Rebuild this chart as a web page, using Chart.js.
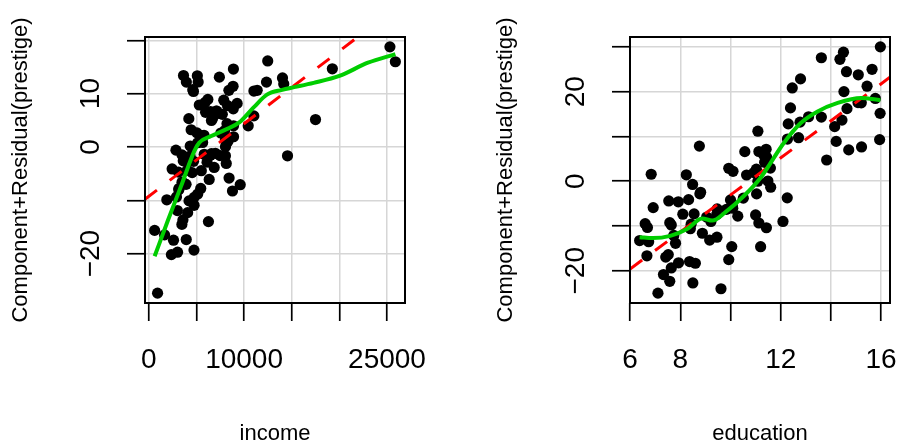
<!DOCTYPE html>
<html lang="en">
<head>
    <meta charset="UTF-8">
    <title>Component + Residual plots</title>
    <script src="https://cdn.jsdelivr.net/npm/chart.js"></script>
    <style>
        body { margin: 0; background: #fff; }
        canvas { position: absolute; top: 0; }
        #incomeChart { left: 0; }
        #educationChart { left: 485px; }
    </style>
</head>
<body>
    <canvas id="incomeChart" width="450" height="443"></canvas>
    <canvas id="educationChart" width="416" height="443"></canvas>
    <script>
        // x values of the points
        const income = [12351, 25879, 9271, 8865, 8403, 11030, 8258, 14163, 11377, 11023,
            5902, 7059, 8425, 8049, 7405, 6336, 19263, 6112, 9593, 4686,
            12480, 5648, 8034, 25308, 14558, 17498, 4614, 3485, 5092, 10432,
            5180, 6197, 7562, 8206, 4036, 3148, 4348, 2448, 4330, 4761,
            3016, 2901, 5511, 3739, 3161, 4741, 5052, 6259, 4075, 7482,
            8780, 2594, 918, 2370, 8131, 6992, 7956, 8895, 8891, 3116,
            3930, 7869, 611, 3000, 3472, 3582, 3643, 1656, 6860, 4199,
            5134, 5134, 1890, 4443, 3485, 8043, 6686, 6565, 6477, 5811,
            6573, 3942, 5449, 2847, 5795, 7716, 4696, 8316, 7147, 8880,
            5299, 5959, 4549, 6928, 3910, 14032, 8845, 5562, 4224, 4753,
            6462, 3617];
        const education = [13.11, 12.26, 12.77, 11.42, 14.62, 15.64, 15.09, 15.44, 14.52, 14.64,
            12.39, 12.30, 13.83, 14.44, 14.36, 14.21, 15.77, 14.15, 15.22, 14.50,
            15.97, 13.62, 15.08, 15.96, 15.94, 14.71, 12.46, 9.45, 13.62, 15.21,
            12.79, 11.09, 12.71, 11.44, 11.59, 11.49, 11.32, 10.64, 11.36, 9.17,
            12.09, 11.04, 9.22, 10.07, 10.51, 11.20, 11.13, 11.43, 11.00, 9.84,
            11.13, 10.05, 9.62, 9.93, 11.60, 11.09, 11.03, 9.47, 10.93, 7.74,
            8.50, 10.57, 9.46, 7.33, 7.11, 7.58, 6.84, 8.60, 8.88, 7.54,
            7.64, 7.64, 7.42, 6.69, 6.74, 10.09, 8.81, 8.40, 7.92, 8.43,
            8.78, 8.76, 10.29, 6.38, 8.10, 10.10, 6.67, 9.05, 9.93, 8.24,
            6.92, 6.60, 7.81, 8.33, 7.52, 12.27, 8.49, 7.58, 7.93, 8.37,
            10.00, 8.55];

        // component + residual values, same order
        const crIncome = [12.15, 15.97, 8.16, 7.15, 10.61, 10.48, 7.76, 11.81, 10.62, 5.82,
            8.33, 6.70, -5.83, 0.05, 13.08, -6.10, 14.65, -2.85, -7.08, 10.40,
            16.12, 0.84, 1.30, 18.76, -1.66, 5.13, 10.74, -6.60, 13.34, 3.96,
            12.18, 8.91, 2.61, 4.36, -4.36, -8.04, 0.16, -4.13, -1.71, -9.45,
            -19.73, -9.38, -4.45, -6.87, -7.79, -19.34, 2.64, -14.00, -12.32, -1.62,
            -8.26, -17.49, -27.41, -20.19, -3.10, -1.19, 3.06, 1.91, 3.97, -4.73,
            -17.37, 8.76, -15.65, -11.93, -14.52, -13.67, 13.39, -16.49, -3.85, 5.30,
            -8.82, 0.78, -9.91, 3.22, -1.49, -1.65, 5.34, -1.26, 6.63, -1.38,
            4.97, 12.15, -7.78, -0.60, 2.18, 6.11, -2.70, 1.05, 6.71, 14.60,
            7.86, 6.49, -4.82, 6.03, -7.02, 12.93, 11.37, 2.13, -10.12, -10.94,
            -1.58, -2.58];
        const crEducation = [14.41, -3.71, 13.20, 7.15, 24.48, 25.01, 23.78, 21.24, 20.03, 16.22,
            16.39, 12.81, 4.75, 13.66, 27.24, 8.90, 18.50, 12.20, 7.66, 28.84,
            30.03, 14.33, 17.58, 15.17, 9.30, 7.00, 20.84, -7.42, 27.59, 17.52,
            22.87, 11.18, 9.73, 5.35, 2.93, 0.04, 5.90, 1.39, 4.23, -13.16,
            -8.99, -2.83, -8.98, -5.47, -3.78, -14.63, 6.64, -10.40, -7.53, -6.27,
            -9.33, -14.61, -24.03, -17.51, -1.35, 0.00, 2.69, -6.19, 1.92, -12.12,
            -22.73, 6.61, -12.51, -20.86, -25.01, -22.36, 1.56, -18.33, -11.62, -4.40,
            -19.37, -9.77, -16.95, -10.33, -13.52, -6.03, -2.48, -10.62, -4.60, -9.59,
            -2.83, 7.85, -7.80, -13.26, -7.37, 2.22, -16.67, -8.00, 2.89, 1.43,
            -5.89, -9.49, -13.87, -4.11, -16.40, 9.42, -0.72, -9.25, -18.23, -17.95,
            -4.18, -7.30];

        // straight fit (red dashed), end points
        const fitIncomeX = [-400, 26890];
        const fitIncomeY = [-9.80, 27.35];
        const fitEducationX = [6.0, 16.35];
        const fitEducationY = [-19.60, 23.22];

        // smooth (green)
        const smoothIncomeX = [611, 2000, 3500, 4800, 5300, 6500, 8000, 9500, 11000, 12400, 14000, 17300, 20000, 23000, 25879];
        const smoothIncomeY = [-20.5, -13.8, -6.8, -0.7, 0.8, 2.0, 3.2, 4.6, 7.4, 9.8, 10.7, 12.0, 13.3, 15.8, 17.4];
        const smoothEducationX = [6.38, 6.9, 7.6, 8.27, 8.87, 9.27, 9.8, 10.53, 11.2, 12.13, 12.8, 13.47, 14.27, 15.2, 15.97];
        const smoothEducationY = [-12.5, -12.7, -12.2, -10.7, -8.3, -8.8, -6.9, -3.3, 0.8, 8.6, 13.0, 15.6, 17.5, 18.6, 18.1];

        // axes
        const incomeTicks = [0, 5000, 10000, 15000, 20000, 25000];
        const incomeTickLabels = ['0', '', '10000', '', '', '25000'];
        const crIncomeTicks = [-20, -10, 0, 10, 20];
        const crIncomeTickLabels = ['\u221220', '', '0', '10', ''];
        const educationTicks = [6, 8, 10, 12, 14, 16];
        const educationTickLabels = ['6', '8', '', '12', '', '16'];
        const crEducationTicks = [-20, -10, 0, 10, 20, 30];
        const crEducationTickLabels = ['\u221220', '', '0', '', '20', ''];

        const family = "'Liberation Sans', Arial, sans-serif";
        const gridColor = '#d6d6d6';

        const boxPlugin = {
            id: 'box',
            afterDatasetsDraw(chart) {
                const { ctx, chartArea: a } = chart;
                ctx.save();
                ctx.strokeStyle = '#000';
                ctx.lineWidth = 2;
                ctx.strokeRect(a.left, a.top, a.right - a.left, a.bottom - a.top);
                ctx.restore();
            }
        };

        function zip(xs, ys) {
            return xs.map((x, i) => ({ x: x, y: ys[i] }));
        }

        function axis(min, max, ticks, labels, title, isX) {
            return {
                type: 'linear',
                min: min,
                max: max,
                afterBuildTicks: s => { s.ticks = ticks.map(v => ({ value: v })); },
                afterFit: s => {
                    if (isX) s.height = 140; else s.width = 145;
                    s.paddingLeft = 0; s.paddingRight = 0; s.paddingTop = 0; s.paddingBottom = 0;
                },
                grid: { color: gridColor, lineWidth: 1.5, tickColor: '#000', tickLength: 18, tickWidth: 1.7 },
                border: { display: false },
                ticks: isX
                    ? { autoSkip: false, maxRotation: 0, padding: 22, color: '#000',
                        font: { family: family, size: 28 }, callback: (v, i) => labels[i] }
                    : { autoSkip: false, minRotation: 90, maxRotation: 90, crossAlign: 'center', padding: 12, color: '#000',
                        font: { family: family, size: 28 }, callback: (v, i) => labels[i] },
                title: {
                    display: true, text: title, color: '#000',
                    font: { family: family, size: 22, lineHeight: 0.8 },
                    padding: isX ? { top: 0, bottom: 0 } : { top: 12, bottom: 0 }
                }
            };
        }

        function makePanel(id, cfg) {
            const ctx = document.getElementById(id).getContext('2d');
            return new Chart(ctx, {
                type: 'scatter',
                data: {
                    datasets: [{
                        type: 'line',
                        data: zip(cfg.smoothX, cfg.smoothY),
                        borderColor: '#00cd00',
                        borderWidth: 4,
                        pointRadius: 0,
                        cubicInterpolationMode: 'monotone',
                        clip: 0
                    }, {
                        type: 'line',
                        data: zip(cfg.fitX, cfg.fitY),
                        borderColor: '#ff0000',
                        borderWidth: 3,
                        borderDash: [15, 16],
                        pointRadius: 0,
                        clip: 0
                    }, {
                        data: zip(cfg.x, cfg.y),
                        backgroundColor: '#000',
                        borderWidth: 0,
                        pointRadius: 5.6
                    }]
                },
                options: {
                    responsive: false,
                    animation: false,
                    layout: { padding: { top: 37, right: cfg.padRight, left: 0, bottom: 0 } },
                    plugins: { legend: { display: false }, tooltip: { enabled: false } },
                    scales: {
                        x: axis(cfg.xMin, cfg.xMax, cfg.xTicks, cfg.xLabels, cfg.xTitle, true),
                        y: axis(cfg.yMin, cfg.yMax, cfg.yTicks, cfg.yLabels, 'Component+Residual(prestige)', false)
                    }
                },
                plugins: [boxPlugin]
            });
        }

        makePanel('incomeChart', {
            x: income, y: crIncome,
            fitX: fitIncomeX, fitY: fitIncomeY,
            smoothX: smoothIncomeX, smoothY: smoothIncomeY,
            xMin: -400, xMax: 26890, yMin: -29.26, yMax: 20.61,
            xTicks: incomeTicks, xLabels: incomeTickLabels,
            yTicks: crIncomeTicks, yLabels: crIncomeTickLabels,
            xTitle: 'income', padRight: 45
        });

        makePanel('educationChart', {
            x: education, y: crEducation,
            fitX: fitEducationX, fitY: fitEducationY,
            smoothX: smoothEducationX, smoothY: smoothEducationY,
            xMin: 5.996, xMax: 16.354, yMin: -27.21, yMax: 32.23,
            xTicks: educationTicks, xLabels: educationTickLabels,
            yTicks: crEducationTicks, yLabels: crEducationTickLabels,
            xTitle: 'education', padRight: 11
        });
    </script>
</body>
</html>
